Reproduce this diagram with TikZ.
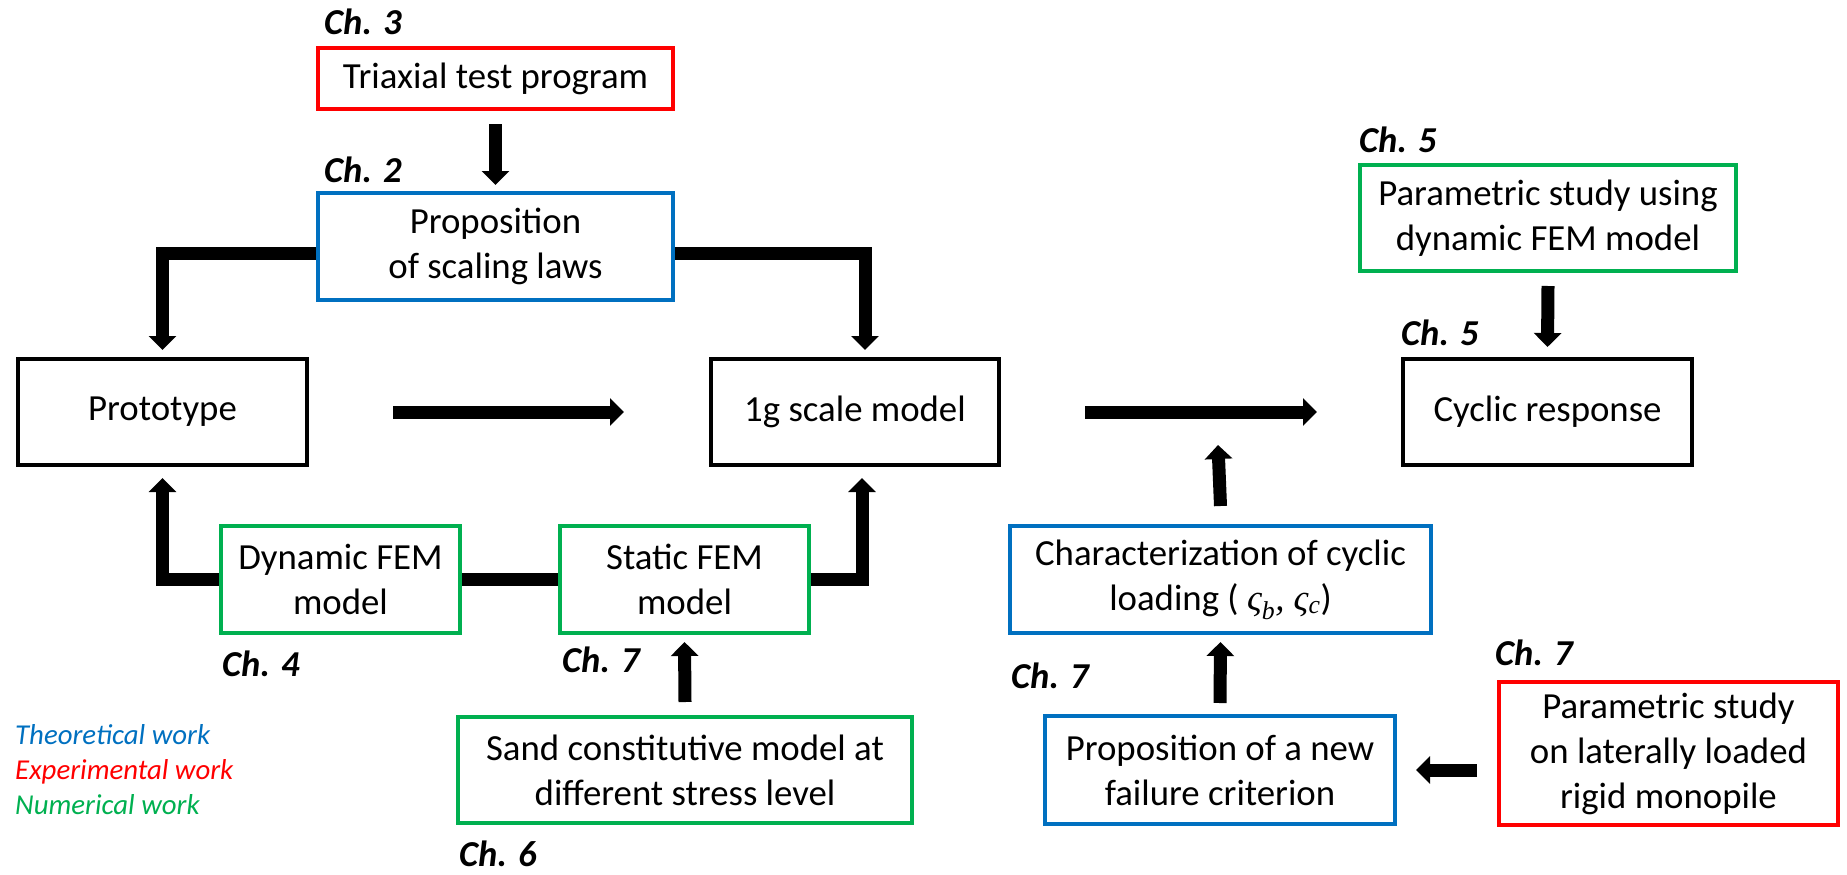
\documentclass[tikz,border=0pt]{standalone}
\usepackage{fontspec}
\setmainfont{Carlito}
\newfontfamily\grkfont{Liberation Serif}
\usetikzlibrary{arrows.meta}
\definecolor{tblue}{RGB}{0,112,192}
\definecolor{tred}{RGB}{255,0,0}
\definecolor{tgreen}{RGB}{0,176,80}
\begin{document}
\begin{tikzpicture}[x=1pt, y=-1pt,
  box/.style={draw, line width=4pt, align=center, inner sep=0pt,
    font=\fontsize{36.8}{45}\selectfont},
  chl/.style={anchor=base west, inner sep=0pt,
    font=\fontsize{36.5}{44}\selectfont\bfseries\itshape},
  leg/.style={anchor=base west, inner sep=0pt,
    font=\fontsize{28.8}{35}\selectfont\itshape},
  conn/.style={line width=13pt, -{Triangle[width=27pt,length=14pt]}},
  bar/.style={line width=13pt}]
\useasboundingbox (0,0) rectangle (1847,875);

% boxes
\node[box, draw=tred, minimum width=355pt, minimum height=61pt] (triax) at (495.5,78.5) {Triaxial test program};
\node[box, draw=tblue, minimum width=355pt, minimum height=107pt] (prop) at (495.5,246.5) {Proposition\\of scaling laws};
\node[box, draw=black, minimum width=289pt, minimum height=106pt] (proto) at (162.5,412) {Prototype};
\node[box, draw=black, minimum width=288pt, minimum height=106pt] (onegs) at (855,412) {1g scale model};
\node[box, draw=black, minimum width=289pt, minimum height=106pt] (cyclic) at (1547.5,412) {Cyclic response};
\node[box, draw=tgreen, minimum width=376pt, minimum height=106pt] (param) at (1548,218) {Parametric study using\\dynamic FEM model};
\node[box, draw=tgreen, minimum width=239pt, minimum height=107pt] (dyn) at (340.5,579.5) {Dynamic FEM\\model};
\node[box, draw=tgreen, minimum width=249pt, minimum height=107pt] (static) at (684.5,579.5) {Static FEM\\model};
\node[box, draw=tgreen, minimum width=454pt, minimum height=106pt] (sand) at (685,770) {Sand constitutive model at\\different stress level};
\node[box, draw=tblue, minimum width=421pt, minimum height=107pt] (char) at (1220.5,579.5) {Characterization of cyclic\\loading ( {\grkfont\itshape ς\textsubscript{b}, ς\textsubscript{c}})};
\node[box, draw=tblue, minimum width=350pt, minimum height=108pt] (newcrit) at (1220,770) {Proposition of a new\\failure criterion};
\node[box, draw=tred, minimum width=339pt, minimum height=143pt] (mono) at (1668.5,753.5) {Parametric study\\on laterally loaded\\rigid monopile};

% chapter labels
\node[chl] (ch3) at (324,35) {Ch. 3};
\node[chl] (ch2) at (324,182) {Ch. 2};
\node[chl] (ch5a) at (1359,152) {Ch. 5};
\node[chl] (ch5b) at (1401,345) {Ch. 5};
\node[chl] (ch4) at (222,676) {Ch. 4};
\node[chl] (ch7a) at (562,672) {Ch. 7};
\node[chl] (ch6) at (459,866) {Ch. 6};
\node[chl] (ch7b) at (1011,688) {Ch. 7};
\node[chl] (ch7c) at (1495,665) {Ch. 7};

% legend
\node[leg, text=tblue] (lt) at (15,744) {Theoretical work};
\node[leg, text=tred] (le) at (15,779) {Experimental work};
\node[leg, text=tgreen] (ln) at (15,814) {Numerical work};

% connectors
\coordinate (charup) at (1218,445);
\coordinate (monoin) at (mono.west |- newcrit.east);

\draw[conn] ([yshift=-13pt]triax.south) -- ([yshift=6pt]prop.north);
\draw[conn] ([yshift=-6.5pt]prop.west) -| ([yshift=7pt]proto.north);
\draw[conn] ([yshift=-6.5pt]prop.east) -| ([xshift=10pt,yshift=7pt]onegs.north);
\draw[conn] ([xshift=84pt]proto.east) -- ([xshift=-85pt]onegs.west);
\draw[conn] ([xshift=84pt]onegs.east) -- ([xshift=-84pt]cyclic.west);
\draw[conn] ([yshift=-13pt]param.south) -- ([yshift=10pt]cyclic.north);
\draw[conn] (dyn.west) -| ([yshift=-11pt]proto.south);
\draw[conn] (static.east) -| ([xshift=7pt,yshift=-11pt]onegs.south);
\draw[bar] (dyn.east) -- (static.west);
\draw[conn] ([yshift=13pt]sand.north) -- ([yshift=-7pt]static.south);
\draw[conn] ([yshift=11pt]newcrit.north) -- ([yshift=-7pt]char.south);
\draw[conn] ([yshift=18pt]char.north) -- (charup);
\draw[conn] ([xshift=-20pt]monoin) -- ([xshift=19pt]newcrit.east);
\end{tikzpicture}
\end{document}
